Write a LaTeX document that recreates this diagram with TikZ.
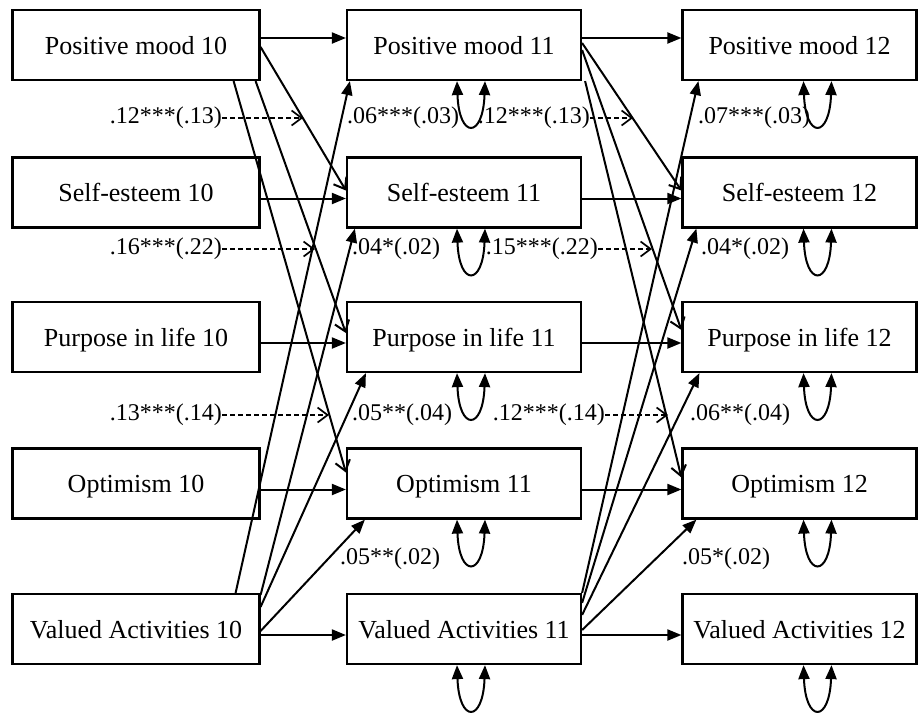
\documentclass[tikz,border=0pt]{standalone}
\usepackage{fontspec}
\setmainfont{Liberation Serif}
\usetikzlibrary{arrows.meta}

\begin{document}
\begin{tikzpicture}[x=1pt, y=1pt, >={Triangle[length=14pt,width=11pt]},
  box/.style={draw, line width=2.2pt, minimum width=#1, minimum height=70pt,
    inner sep=0pt, text height=20pt, text depth=2pt, font=\fontsize{26}{30}\selectfont},
  box/.default=234pt,
  coef/.style={inner sep=0pt, font=\fontsize{24}{28}\selectfont},
  link/.style={line width=2pt, ->},
  cross/.style={line width=2pt, -{Straight Barb[length=10pt,width=15pt]}},
  dasharr/.style={line width=1.7pt, dash pattern=on 5pt off 3pt, -{Straight Barb[length=10pt,width=15pt]}},
  stab/.style={line width=2pt, <->}]
\useasboundingbox (0,0) rectangle (920,-712);

% wave 10
\node[box=247pt] (pm10) at (136,-45) {Positive mood 10};
\node[box=247pt] (se10) at (136,-192.5) {Self-esteem 10};
\node[box=247pt] (pur10) at (136,-337) {Purpose in life 10};
\node[box=247pt] (opt10) at (136,-483.5) {Optimism 10};
\node[box=247pt] (va10) at (136,-629) {Valued Activities 10};
% wave 11
\node[box] (pm11) at (464,-45) {Positive mood 11};
\node[box] (se11) at (464,-192.5) {Self-esteem 11};
\node[box] (pur11) at (464,-337) {Purpose in life 11};
\node[box] (opt11) at (464,-483.5) {Optimism 11};
\node[box] (va11) at (464,-629) {Valued Activities 11};
% wave 12
\node[box] (pm12) at (799.5,-45) {Positive mood 12};
\node[box] (se12) at (799.5,-192.5) {Self-esteem 12};
\node[box] (pur12) at (799.5,-337) {Purpose in life 12};
\node[box] (opt12) at (799.5,-483.5) {Optimism 12};
\node[box] (va12) at (799.5,-629) {Valued Activities 12};

% stability paths
\draw[link] ([yshift=7pt]pm10.east) -- ([yshift=7pt]pm11.west);
\draw[link] ([yshift=-6pt]se10.east) -- ([yshift=-6pt]se11.west);
\draw[link] ([yshift=-6pt]pur10.east) -- ([yshift=-6pt]pur11.west);
\draw[link] ([yshift=-6pt]opt10.east) -- ([yshift=-6pt]opt11.west);
\draw[link] ([yshift=-6pt]va10.east) -- ([yshift=-6pt]va11.west);
\draw[link] ([yshift=7pt]pm11.east) -- ([yshift=7pt]pm12.west);
\draw[link] ([yshift=-6pt]se11.east) -- ([yshift=-6pt]se12.west);
\draw[link] ([yshift=-6pt]pur11.east) -- ([yshift=-6pt]pur12.west);
\draw[link] ([yshift=-6pt]opt11.east) -- ([yshift=-6pt]opt12.west);
\draw[link] ([yshift=-6pt]va11.east) -- ([yshift=-6pt]va12.west);

% positive mood -> later outcomes
\draw[cross] ([yshift=-2pt]pm10.east) -- ([yshift=2pt]se11.west);
\draw[cross] ([xshift=-5pt]pm10.south east) -- ([yshift=4pt]pur11.west);
\draw[cross] ([xshift=-27pt]pm10.south east) -- ([yshift=11pt]opt11.west);
\draw[cross] ([yshift=2pt]pm11.east) -- ([yshift=2pt]se12.west);
\draw[cross] ([yshift=-5pt]pm11.east) -- ([yshift=7pt]pur12.west);
\draw[cross] ([xshift=3pt]pm11.south east) -- ([yshift=6pt]opt12.west);

% valued activities -> later outcomes
\draw[link] ([xshift=-25pt]va10.north east) -- ([xshift=4pt]pm11.south west);
\draw[link] ([yshift=-2pt]va10.north east) -- ([xshift=9pt]se11.south west);
\draw[link] ([yshift=-14pt]va10.north east) -- ([xshift=20pt]pur11.south west);
\draw[link] ([yshift=-2pt]va10.east) -- ([xshift=19pt]opt11.south west);
\draw[link] (va11.north east) -- ([xshift=17pt]pm12.south west);
\draw[link] ([yshift=-10pt]va11.north east) -- ([xshift=15pt]se12.south west);
\draw[link] ([yshift=-22pt]va11.north east) -- ([xshift=18pt]pur12.south west);
\draw[link] ([yshift=-1pt]va11.east) -- ([xshift=15pt]opt12.south west);

% residual loops
\foreach \n in {pm11,se11,pur11,opt11,va11}
  \draw[stab] ([xshift=-7pt]\n.south) .. controls +(2,-58) and +(-2,-58) .. ([xshift=21pt]\n.south);
\foreach \n in {pm12,se12,pur12,opt12,va12}
  \draw[stab] ([xshift=4pt]\n.south) .. controls +(2,-58) and +(-2,-58) .. ([xshift=32pt]\n.south);

% coefficients
\coordinate (t1) at (303,-118);
\coordinate (t2) at (315,-249);
\coordinate (t3) at (329,-415);
\coordinate (t4) at (633,-118);
\coordinate (t5) at (652,-249);
\coordinate (t6) at (668,-415);
\node[coef, anchor=east] (c1) at (222,-118) {.12***(.13)};
\node[coef, anchor=east] (c2) at (222,-249) {.16***(.22)};
\node[coef, anchor=east] (c3) at (222,-415) {.13***(.14)};
\node[coef, anchor=east] (c4) at (590,-118) {.12***(.13)};
\node[coef, anchor=east] (c5) at (598,-249) {.15***(.22)};
\node[coef, anchor=east] (c6) at (605,-415) {.12***(.14)};
\draw[dasharr] (c1.east) -- (t1);
\draw[dasharr] (c2.east) -- (t2);
\draw[dasharr] (c3.east) -- (t3);
\draw[dasharr] (c4.east) -- (t4);
\draw[dasharr] (c5.east) -- (t5);
\draw[dasharr] (c6.east) -- (t6);
\node[coef, anchor=west] (v1) at (347,-118) {.06***(.03)};
\node[coef, anchor=west] (v2) at (352,-249) {.04*(.02)};
\node[coef, anchor=west] (v3) at (352,-415) {.05**(.04)};
\node[coef, anchor=west] (v4) at (340,-559) {.05**(.02)};
\node[coef, anchor=west] (v5) at (698,-118) {.07***(.03)};
\node[coef, anchor=west] (v6) at (701,-249) {.04*(.02)};
\node[coef, anchor=west] (v7) at (690,-415) {.06**(.04)};
\node[coef, anchor=west] (v8) at (682,-559) {.05*(.02)};
\end{tikzpicture}
\end{document}
